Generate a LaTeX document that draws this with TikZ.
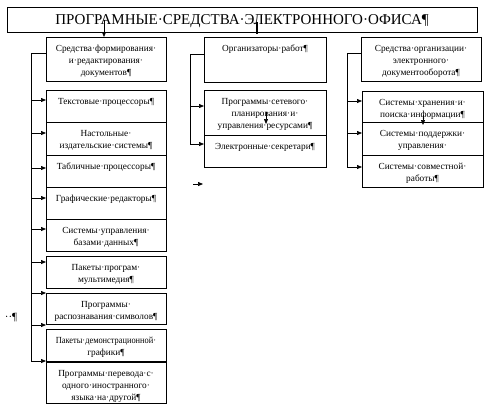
\documentclass[tikz,border=0pt]{standalone}
\usepackage{fontspec}
\setmainfont{Liberation Serif}
\usetikzlibrary{arrows.meta}
\tikzset{
 box/.style={draw, line width=0.7pt, anchor=north west, inner sep=0pt, outer sep=0pt},
 txt/.style={font=\fontsize{9.3}{12}\selectfont, align=center, inner sep=0pt, anchor=north},
 arr/.style={-{Triangle[length=5pt,width=4pt]}, line width=0.7pt},
 ln/.style={line width=0.7pt},
}
\newcommand\mybox[6]{%
 \node[box, minimum width={(#4-#2)*1pt}, minimum height={(#5-#3)*1pt}] (#1) at (#2,#3) {};
 \node[txt] (#1t) at ([yshift=-5.4pt]#1.north) {\strut #6};
}
\begin{document}
\begin{tikzpicture}[x=1pt,y=-1pt]
\useasboundingbox (0,0) rectangle (504,408);
\node[box, minimum width=470pt, minimum height=25pt, font=\fontsize{15}{17}\selectfont, text depth=0pt] (title) at (7,7) {ПРОГРАМНЫЕ·СРЕДСТВА·ЭЛЕКТРОННОГО·ОФИСА¶};
% column 1
\mybox{a0}{46}{37}{166}{81}{Средства·формирования·\\и·редактирования·\\документов¶}
\mybox{a1}{46}{90}{166}{122}{Текстовые·процессоры¶}
\mybox{a2}{46}{122}{166}{155}{Настольные·\\издательские·системы¶}
\mybox{a3}{46}{155}{166}{187}{Табличные·процессоры¶}
\mybox{a4}{46}{187}{166}{219}{Графические·редакторы¶}
\mybox{a5}{46}{219}{166}{251}{Системы·управления·\\базами·данных¶}
\mybox{a6}{46}{256}{166}{288}{Пакеты·програм·\\мультимедия¶}
\mybox{a7}{46}{293}{166}{324}{Программы·\\распознавания·символов¶}
\mybox{a8}{46}{329}{166}{361}{\scalebox{0.9}[1]{Пакеты·демонстрационной·}\\графики¶}
\mybox{a9}{46}{362}{166}{403}{Программы·перевода·с·\\одного·иностранного·\\языка·на·другой¶}
% column 2
\mybox{b0}{204}{37}{326}{82}{Организаторы·работ¶}
\mybox{b1}{204}{90}{326}{135}{Программы·сетевого·\\планирования·и·\\управления·ресурсами¶}
\mybox{b2}{204}{135}{326}{167}{Электронные·секретари¶}
% column 3
\mybox{c0}{361}{37}{481}{81}{Средства·организации·\\электронного·\\документооборота¶}
\mybox{c1}{362}{91}{483}{122}{Системы·хранения·и·\\поиска·информации¶}
\mybox{c2}{362}{122}{483}{155}{Системы·поддержки·\\управления·}
\mybox{c3}{362}{155}{483}{187}{Системы·совместной·\\работы¶}
% stray mark
\node[font=\fontsize{11}{13}\selectfont, inner sep=0pt] (pm) at (11,318) {··¶};
% title connectors
\coordinate (ta) at (104,20);
\draw[arr] (ta) -- (ta |- a0.north);
\coordinate (tb) at (257,22);
\draw[line width=1.5pt] (tb) -- ++(0,12);
% bracket 1
\coordinate (k1) at (31,53);
\coordinate (k1e) at (31,361);
\draw[ln] (a0.west |- k1) -- (k1) -- (k1e);
\foreach \y/\n in {100/a1,133/a2,168/a3,198/a4,229/a5,262/a6,293/a7,325/a8,361/a9}{
 \coordinate (s) at (31,\y);
 \draw[arr] (s) -- (s -| \n.west);
}
% bracket 2
\coordinate (k2) at (190,54);
\coordinate (k2e) at (190,144);
\draw[ln] (b0.west |- k2) -- (k2) -- (k2e);
\foreach \y/\n in {106/b1,144/b2}{
 \coordinate (s) at (190,\y);
 \draw[arr] (s) -- (s -| \n.west);
}
% bracket 3
\coordinate (k3) at (347,53);
\coordinate (k3e) at (347,167);
\draw[ln] (c0.west |- k3) -- (k3) -- (k3e);
\foreach \y/\n in {101/c1,133/c2,167/c3}{
 \coordinate (s) at (347,\y);
 \draw[arr] (s) -- (s -| \n.west);
}
% small arrows
\coordinate (m1) at (266,112);
\draw[arr] (m1) -- ++(0,12);
\coordinate (m2) at (423,115);
\draw[arr] (m2) -- ++(0,10);
\coordinate (m3) at (193,184);
\draw[arr] (m3) -- ++(10,0);
\end{tikzpicture}
\end{document}
